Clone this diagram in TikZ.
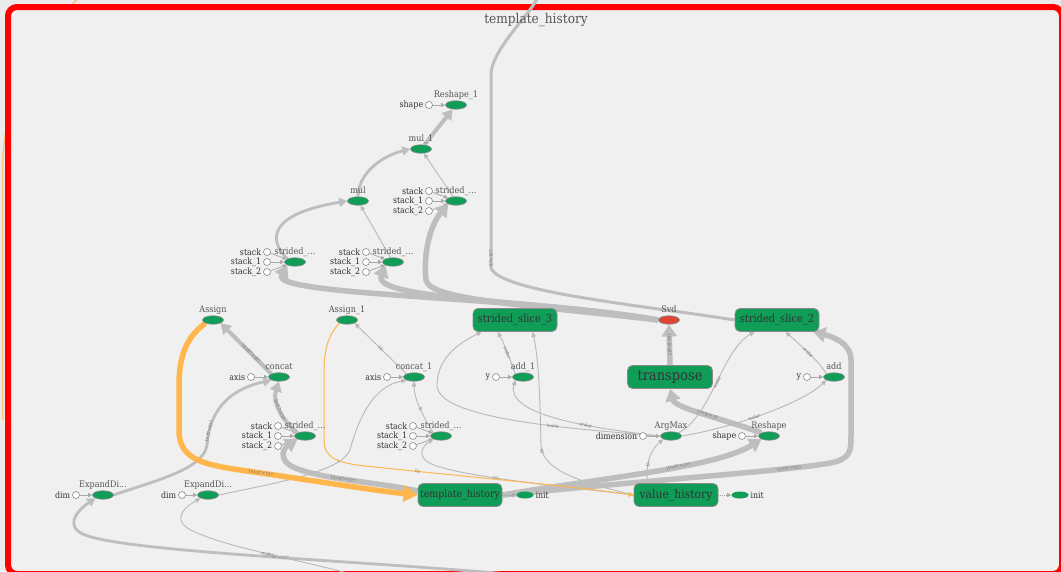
\documentclass[tikz,border=0pt]{standalone}
\usepackage{fontspec}
\setmainfont{DejaVu Serif}[FakeStretch=0.9]
\usetikzlibrary{shapes.geometric,arrows.meta}

\definecolor{bgout}{HTML}{EBEBEB}
\definecolor{bgin}{HTML}{F0F0F0}
\definecolor{framered}{HTML}{FF0000}
\definecolor{opgreen}{HTML}{0F9D58}
\definecolor{opline}{HTML}{8A8A8A}
\definecolor{svdred}{HTML}{DB4437}
\definecolor{edgec}{HTML}{BEBEBE}
\definecolor{edgelt}{HTML}{B8B8B8}
\definecolor{cedgec}{HTML}{A8A8A8}
\definecolor{orangeE}{HTML}{FFB74D}
\definecolor{labc}{HTML}{555555}
\definecolor{clabc}{HTML}{333333}
\definecolor{elabc}{HTML}{6E6E6E}

\pgfdeclarelayer{bgfill}
\pgfdeclarelayer{edges}
\pgfsetlayers{bgfill,edges,main}

\tikzset{
  op/.style={ellipse, fill=opgreen, draw=opline, line width=0.6pt,
    minimum width=21pt, minimum height=8.5pt, inner sep=0pt},
  svdop/.style={op, fill=svdred},
  initop/.style={op, draw=none, minimum width=17pt, minimum height=7pt},
  grp/.style={rectangle, rounded corners=5pt, fill=opgreen, draw=opline,
    line width=0.8pt, minimum width=84pt, minimum height=23pt, inner sep=0pt,
    text=clabc},
  cst/.style={circle, fill=white, draw=opline, line width=0.6pt,
    minimum size=7pt, inner sep=0pt},
  lab/.style={font=\fontsize{9}{10}\selectfont, text=labc, inner sep=0pt},
  clab/.style={font=\fontsize{8.8}{9}\selectfont, text=clabc, inner sep=1.8pt},
  elab/.style={font=\fontsize{4.5}{5}\selectfont, text=elabc, sloped, inner sep=0.5pt},
  cedge/.style={draw=cedgec, line width=0.8pt, -{Triangle[length=4pt,width=4pt]}},
  e1/.style={draw=edgelt, line width=0.9pt, -{Triangle[length=5pt,width=4.5pt]}},
  e2/.style={draw=edgec, line width=2.8pt, -{Triangle[length=8pt,width=9pt]}},
  e3/.style={draw=edgec, line width=4pt, -{Triangle[length=10pt,width=12pt]}},
  e4/.style={draw=edgec, line width=5.5pt, -{Triangle[length=12pt,width=15pt]}},
  o1/.style={draw=orangeE, line width=1pt, -{Triangle[length=5pt,width=5pt]}},
  o4/.style={draw=orangeE, line width=5.5pt, -{Triangle[length=14pt,width=16pt]}},
  dotedge/.style={draw=cedgec, line width=0.8pt, densely dotted,
    -{Triangle[length=4pt,width=4pt]}},
}

% op ellipse with its name set above it
\newcommand\mkop[5][op]{%
  \node[#1] (#2) at (#3,#4) {};
  \node[lab, anchor=base] (#2-l) at (#3,#4-7.5) {#5};}
% constant input: small open circle with its name on the left
\newcommand\mkcst[4]{%
  \node[cst] (#1) at (#2,#3) {};
  \node[clab, anchor=east] (#1-l) at (#1.west) {#4};}

\begin{document}
\begin{tikzpicture}[x=1pt,y=-1pt]
\useasboundingbox (0,0) rectangle (1061,571);

\begin{pgfonlayer}{bgfill}
  \fill[bgout] (0,0) rectangle (1061,571);
  \draw[orangeE, line width=1.5pt, opacity=0.7] (80,-4) .. controls (40,40) and (3,90) .. (2.5,170) -- (2.5,420);
  \draw[framered, line width=6pt, fill=bgin, rounded corners=9pt] (8,7) rectangle (1062,574);
\end{pgfonlayer}

\node[font=\fontsize{13.5}{15}\selectfont, text=labc] (title) at (536,20) {template\_history};

% ---- upper chain
\mkop{r1}{456}{105}{Reshape\_1}
\mkcst{r1c}{429}{105}{shape}
\mkop{m1}{421}{149}{mul\_1}
\mkop{m0}{358}{201}{mul}
\mkop{sA}{456}{201}{strided\_...}
\mkcst{sAa}{429}{191}{stack}
\mkcst{sAb}{429}{201}{stack\_1}
\mkcst{sAc}{429}{211}{stack\_2}
\mkop{sB}{295}{262}{strided\_...}
\mkcst{sBa}{267}{252}{stack}
\mkcst{sBb}{267}{262}{stack\_1}
\mkcst{sBc}{267}{272}{stack\_2}
\mkop{sC}{393}{262}{strided\_...}
\mkcst{sCa}{366}{252}{stack}
\mkcst{sCb}{366}{262}{stack\_1}
\mkcst{sCc}{366}{272}{stack\_2}

% ---- middle row
\mkop{asg}{213}{320}{Assign}
\mkop{asg1}{347}{320}{Assign\_1}
\node[grp, font=\fontsize{11}{12}\selectfont] (ss3) at (515,320) {strided\_slice\_3};
\mkop[svdop]{svd}{669}{320}{Svd}
\node[grp, font=\fontsize{11}{12}\selectfont] (ss2) at (777,320) {strided\_slice\_2};

\mkop{cc}{279}{377}{concat}
\mkcst{ccax}{251}{377}{axis}
\mkop{cc1}{414}{377}{concat\_1}
\mkcst{cc1ax}{387}{377}{axis}
\mkop{ad1}{523}{377}{add\_1}
\mkcst{ad1y}{496}{377}{y}
\node[grp, minimum width=85pt, font=\fontsize{14.5}{15}\selectfont] (tp) at (670,377) {transpose};
\mkop{ad}{834}{377}{add}
\mkcst{ady}{807}{377}{y}

\mkop{sD}{305}{436}{strided\_...}
\mkcst{sDa}{278}{426}{stack}
\mkcst{sDb}{278}{436}{stack\_1}
\mkcst{sDc}{278}{446}{stack\_2}
\mkop{sE}{441}{436}{strided\_...}
\mkcst{sEa}{413}{426}{stack}
\mkcst{sEb}{413}{436}{stack\_1}
\mkcst{sEc}{413}{446}{stack\_2}
\mkop{am}{671}{436}{ArgMax}
\mkcst{amd}{643}{436}{dimension}
\mkop{rs}{769}{436}{Reshape}
\mkcst{rss}{742}{436}{shape}

% ---- bottom row
\mkop{ed1}{103}{495}{ExpandDi...}
\mkcst{ed1d}{76}{495}{dim}
\mkop{ed2}{208}{495}{ExpandDi...}
\mkcst{ed2d}{182}{495}{dim}
\node[grp, font=\fontsize{10.4}{11}\selectfont] (th) at (460,495) {template\_history};
\node[initop] (in1) at (525,495) {};
\node[clab, anchor=west, inner sep=1.5pt] (in1-l) at (in1.east) {init};
\node[grp, font=\fontsize{12}{13}\selectfont] (vh) at (676,495) {value\_history};
\node[initop] (in2) at (740,495) {};
\node[clab, anchor=west, inner sep=1.5pt] (in2-l) at (in2.east) {init};

\coordinate (topout) at (538,-3);
\coordinate (botA) at (520,575);
\coordinate (botB) at (355,575);

\begin{pgfonlayer}{edges}
  % constants into their ops
  \foreach \c/\o in {r1c/r1, sAa/sA, sAb/sA, sAc/sA, sBa/sB, sBb/sB, sBc/sB,
      sCa/sC, sCb/sC, sCc/sC, ccax/cc, cc1ax/cc1, ad1y/ad1, ady/ad,
      sDa/sD, sDb/sD, sDc/sD, sEa/sE, sEb/sE, sEc/sE, amd/am, rss/rs,
      ed1d/ed1, ed2d/ed2}
    \draw[cedge] (\c) -- (\o);

  % upper chain
  \draw[e3] (m1) -- (r1);
  \draw[e2] (m0.north) .. controls (358,176) and (378,157) .. (m1.west);
  \draw[e1] (sA) -- (m1);
  \draw[e2] (sB.north west) .. controls (268,240) and (268,214) .. (m0.west);
  \draw[e1] (sC) -- (m0);

  % Svd fans out to the slices
  \draw[e4] (svd.west) .. controls (520,296) and (270,296) .. (sB.south west)
    node[elab, pos=0.4] {10×87×10};
  \draw[e4] (svd.west) .. controls (540,300) and (372,300) .. (sC.south west);
  \draw[e4] (svd.west) .. controls (520,304) and (430,300) .. (426,280)
    .. controls (423,255) and (430,225) .. (sA.south west);

  % slice leaving the group at the top
  \draw[draw=edgec, line width=3pt] (ss2.west) .. controls (640,305) and (500,292) .. (491,268)
    -- (491,75) node[elab, pos=0.05] {87×107}
    .. controls (491,50) and (530,15) .. (topout);

  % transpose / Svd
  \draw[e4] (tp.north) -- (svd.south) node[elab, midway] {10×10×87};
  \draw[e4] (rs.north west) .. controls (720,418) and (675,408) .. (tp.south)
    node[elab, pos=0.45] {10×87×10};

  % ArgMax outputs
  \draw[e1] (am.north east) .. controls (712,415) and (722,350) .. ([xshift=20pt]ss2.south west)
    node[elab, pos=0.5] {scalar};
  \draw[e1] (am.west) .. controls (560,428) and (437,418) .. (437,385)
    node[elab, pos=0.35] {scalar}
    .. controls (437,355) and (465,340) .. ([xshift=9pt]ss3.south west);
  \draw[e1] (am.west) .. controls (590,428) and (505,415) .. (ad1.south west)
    node[elab, pos=0.35] {scalar};
  \draw[e1] (am.east) .. controls (730,428) and (800,405) .. (ad.south west)
    node[elab, pos=0.45] {scalar};
  \draw[e1] (ad.north west) .. controls (818,360) and (800,345) .. ([xshift=51pt]ss2.south west)
    node[elab, pos=0.5] {scalar};
  \draw[e1] (ad1.north west) .. controls (510,360) and (505,345) .. ([xshift=25pt]ss3.south west)
    node[elab, pos=0.5] {scalar};

  % value_history outputs
  \draw[e1] (vh.west) .. controls (585,483) and (542,472) .. (541,445)
    node[elab, pos=0.92] {10}
    .. controls (540,400) and (539,360) .. ([xshift=60pt]ss3.south west);
  \draw[e1] ([xshift=14pt]vh.north west) .. controls (646,468) and (648,452) .. (am.south west)
    node[elab, pos=0.4] {10};
  \draw[e1] (vh.west) .. controls (560,486) and (440,475) .. (425,460)
    node[elab, pos=0.55] {10}
    .. controls (418,452) and (424,445) .. (sE.south west);

  % template_history outputs
  \draw[e4] (th.east) .. controls (600,478) and (715,468) .. (rs.south west)
    node[elab, pos=0.6] {10×87×107};
  \draw[e4] (th.east) .. controls (650,480) and (800,470) .. (835,462)
    node[elab, pos=0.75] {10×87×107}
    .. controls (851,457) and (851,450) .. (851,435) -- (851,360)
    .. controls (851,342) and (830,336) .. ([xshift=-6pt]ss2.south east);
  \draw[e4] ([yshift=4pt]th.west) .. controls (380,482) and (300,478) .. (286,462)
    node[elab, pos=0.5] {10×87×107}
    .. controls (280,454) and (285,447) .. (sD.south west);

  % concat block
  \draw[e3] (cc.north west) -- (asg.south east) node[elab, pos=0.4] {10×87×107};
  \draw[e1] (cc1.north west) -- (asg1.south east) node[elab, midway] {10};
  \draw[e3] (sD.north west) .. controls (282,420) and (272,402) .. (cc.south)
    node[elab, pos=0.5] {9×87×107};
  \draw[e1] (sE.north west) .. controls (425,420) and (414,400) .. (cc1.south)
    node[elab, pos=0.5] {9};
  \draw[e2] (ed1.east) .. controls (150,482) and (204,470) .. (207,445)
    .. controls (210,405) and (235,388) .. (cc.south west)
    node[elab, pos=0.12] {1×87×107};
  \draw[e1] (ed2.east) .. controls (280,482) and (340,472) .. (350,450)
    node[elab, pos=0.8] {1}
    .. controls (362,405) and (380,385) .. (cc1.south west);

  % assignments into the history variables
  \draw[o4] (asg.south west) .. controls (190,335) and (179,350) .. (179,385) -- (179,430)
    .. controls (179,458) and (200,464) .. (240,470)
    .. controls (310,480) and (370,490) .. (th.west) node[elab, pos=0.1] {10×87×107};
  \draw[o1] (asg1.south west) .. controls (333,330) and (324,342) .. (324,370) -- (324,440)
    .. controls (324,458) and (338,463) .. (365,466)
    .. controls (460,476) and (570,486) .. (vh.west) node[elab, pos=0.18] {10};

  % inputs arriving from below the group
  \draw[e2] (botA) .. controls (350,560) and (130,552) .. (85,535)
    node[elab, pos=0.45] {87×107}
    .. controls (65,527) and (75,512) .. (ed1.south west);
  \draw[e1] (botB) .. controls (300,560) and (230,548) .. (195,532)
    node[elab, pos=0.5] {scalar}
    .. controls (172,522) and (180,510) .. (ed2.south west);

  % initialisers
  \draw[dotedge] (th) -- (in1);
  \draw[dotedge] (vh) -- (in2);
\end{pgfonlayer}
\end{tikzpicture}
\end{document}
